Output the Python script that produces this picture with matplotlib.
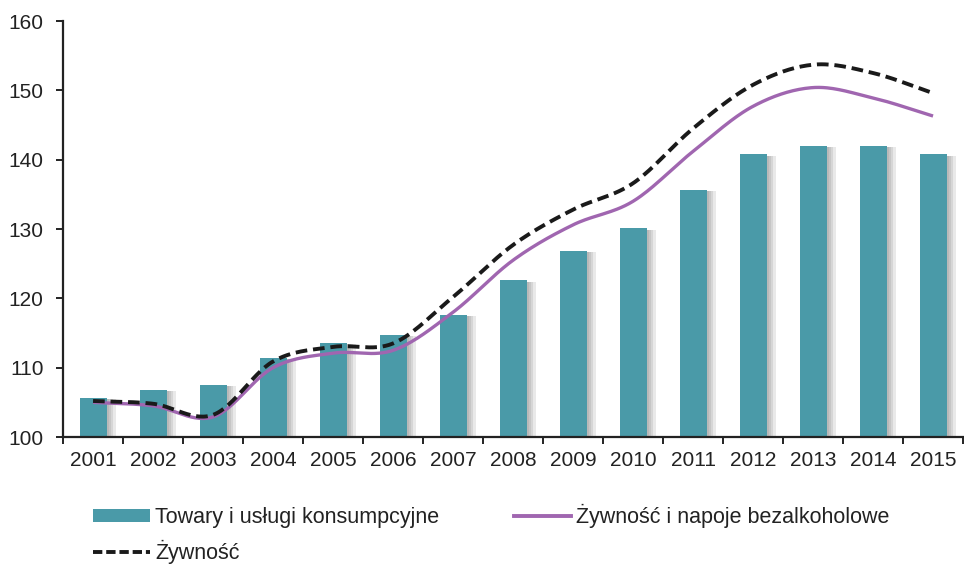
import numpy as np
import matplotlib.pyplot as plt
import matplotlib.patheffects as pe
from matplotlib.lines import Line2D
from matplotlib.patches import Patch

plt.rcParams['font.family'] = ['Liberation Sans', 'DejaVu Sans']

years = [str(y) for y in range(2001, 2016)]
towary = [105.7, 106.8, 107.5, 111.4, 113.6, 114.7, 117.6, 122.6, 126.9, 130.1,
          135.7, 140.8, 142.0, 142.0, 140.8]
zywnosc_napoje = [105.0, 104.5, 102.9, 110.0, 112.1, 112.5, 118.0, 125.5, 130.6, 134.0,
                  141.2, 147.7, 150.4, 148.9, 146.3]
zywnosc = [105.2, 104.8, 103.2, 110.9, 113.0, 113.5, 120.2, 127.7, 132.8, 136.6,
           144.5, 150.8, 153.7, 152.5, 149.6]

bar_color = '#4a9aa8'
purple = '#a066b0'
black = '#1a1a1a'


def smooth(y, n=30):
    # Catmull-Rom curve through the points (like Excel's smoothed line)
    y = np.asarray(y, float)
    p = np.concatenate([[2 * y[0] - y[1]], y, [2 * y[-1] - y[-2]]])
    xs, ys = [], []
    t = np.linspace(0, 1, n, endpoint=False)
    for i in range(len(y) - 1):
        p0, p1, p2, p3 = p[i], p[i + 1], p[i + 2], p[i + 3]
        seg = 0.5 * ((2 * p1) + (-p0 + p2) * t + (2 * p0 - 5 * p1 + 4 * p2 - p3) * t ** 2
                     + (-p0 + 3 * p1 - 3 * p2 + p3) * t ** 3)
        xs.append(i + t)
        ys.append(seg)
    xs.append([len(y) - 1])
    ys.append([y[-1]])
    return np.concatenate(xs), np.concatenate(ys)


fig = plt.figure(figsize=(9.64, 5.65), dpi=100)
ax = fig.add_axes([0.0654, 0.2265, 0.9336, 0.7363])

x = np.arange(len(years))
bars = ax.bar(x, np.array(towary) - 100, bottom=100, width=0.45, color=bar_color, zorder=2)
# soft shadow on the right side of the bars
shadow = [pe.SimplePatchShadow(offset=(o, -1), shadow_rgbFace='#777777', alpha=0.16)
          for o in (7, 5, 3.5, 2)]
for b in bars:
    b.set_path_effects(shadow + [pe.Normal()])

sx, sy = smooth(zywnosc_napoje)
ax.plot(sx, sy, color=purple, lw=2.4, zorder=3, solid_capstyle='butt')
sx, sy = smooth(zywnosc)
ax.plot(sx, sy, color=black, lw=2.8, dashes=(3.0, 1.5), zorder=4)

ax.set_xlim(-0.5, len(years) - 0.5)
ax.set_ylim(100, 160)
ax.set_yticks(range(100, 161, 10))
ax.set_xticks(x)
ax.set_xticklabels(years)
ax.set_xticks(np.arange(-0.5, len(years), 1), minor=True)

for s in ['top', 'right']:
    ax.spines[s].set_visible(False)
for s in ['left', 'bottom']:
    ax.spines[s].set_linewidth(1.6)
    ax.spines[s].set_color('#222222')

ax.tick_params(axis='y', length=5, width=1.4, pad=9, labelsize=15, colors='#222222')
ax.tick_params(axis='x', which='major', length=0, pad=10, labelsize=15, colors='#222222')
ax.tick_params(axis='x', which='minor', length=5, width=1.4, color='#222222')

handles = [Patch(facecolor=bar_color, edgecolor='none'),
           Line2D([], [], color=black, lw=2.8, dashes=(2.4, 1.0)),
           Line2D([], [], color=purple, lw=2.8)]
labels = ['Towary i usługi konsumpcyjne', 'Żywność', 'Żywność i napoje bezalkoholowe']
leg = fig.legend(handles, labels, ncol=2, loc='upper left', bbox_to_anchor=(0.0965, 0.108),
                 frameon=False, handlelength=2.65, handleheight=0.5, handletextpad=0.25,
                 columnspacing=3.45, labelspacing=0.55, borderaxespad=0, borderpad=0,
                 fontsize=15.5)
for t in leg.get_texts():
    t.set_color('#222222')

fig.savefig('out.png', dpi=100)
